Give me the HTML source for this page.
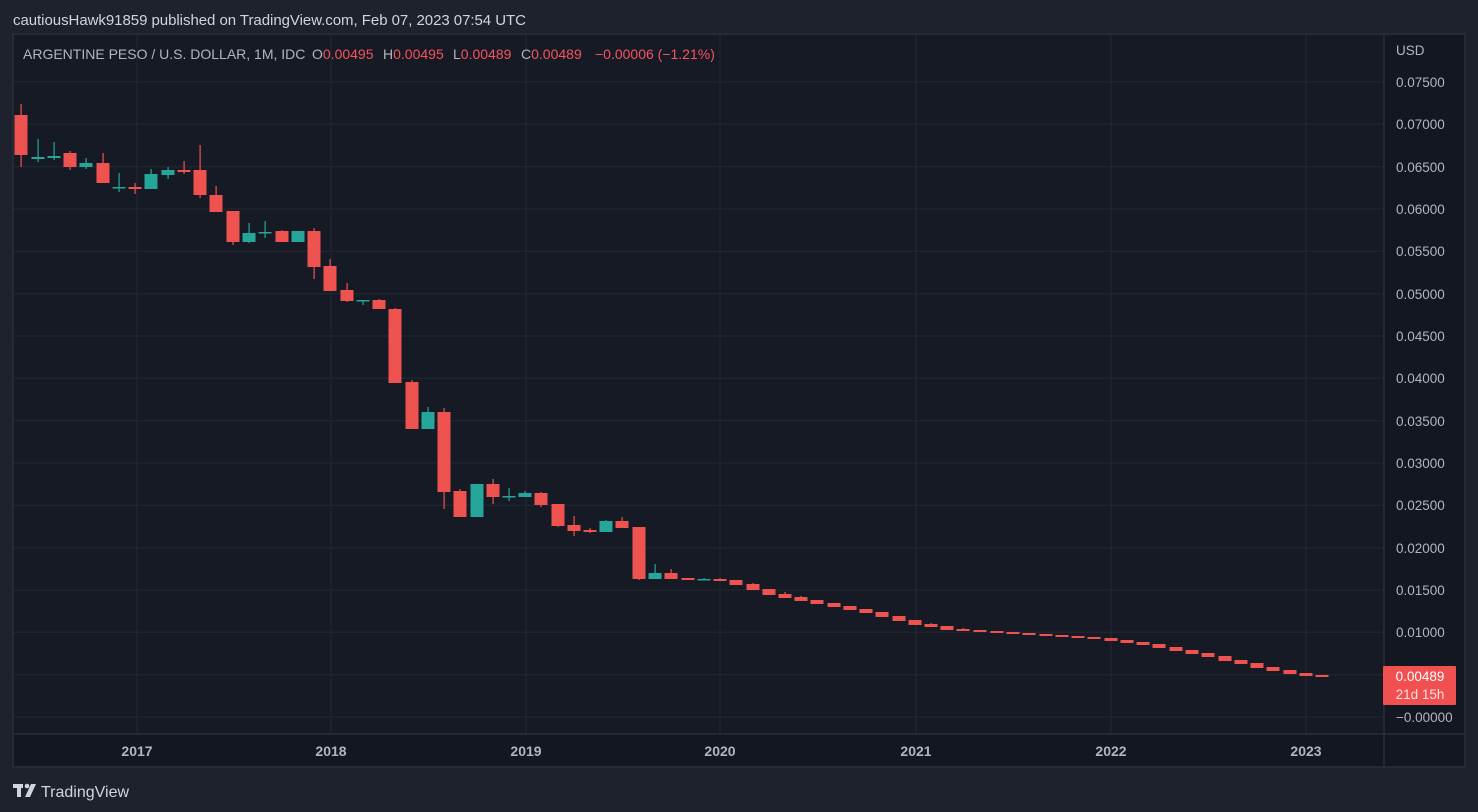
<!DOCTYPE html>
<html><head><meta charset="utf-8"><style>
html,body{margin:0;padding:0;background:#1e222d;width:1478px;height:812px;overflow:hidden;font-family:"Liberation Sans",sans-serif}
</style></head><body>
<svg width="1478" height="812" xmlns="http://www.w3.org/2000/svg" font-family="Liberation Sans, sans-serif">
<rect x="0" y="0" width="1478" height="812" fill="#1e222d"/>
<text x="13" y="25" fill="#d1d4dc" font-size="15" textLength="513">cautiousHawk91859 published on TradingView.com, Feb 07, 2023 07:54 UTC</text>
<rect x="13" y="34" width="1452" height="733" fill="#161a25" stroke="#2a2e39" stroke-width="1.5"/>
<rect x="14" y="734" width="1450" height="32" fill="#131722"/>
<rect x="1384" y="35" width="80" height="699" fill="#131722"/>
<g stroke="#242833" stroke-width="1">
<line x1="14" x2="1383" y1="82" y2="82"/><line x1="14" x2="1383" y1="124.3" y2="124.3"/><line x1="14" x2="1383" y1="166.7" y2="166.7"/><line x1="14" x2="1383" y1="209" y2="209"/><line x1="14" x2="1383" y1="251.3" y2="251.3"/><line x1="14" x2="1383" y1="293.7" y2="293.7"/><line x1="14" x2="1383" y1="336" y2="336"/><line x1="14" x2="1383" y1="378.3" y2="378.3"/><line x1="14" x2="1383" y1="420.7" y2="420.7"/><line x1="14" x2="1383" y1="463" y2="463"/><line x1="14" x2="1383" y1="505.3" y2="505.3"/><line x1="14" x2="1383" y1="547.7" y2="547.7"/><line x1="14" x2="1383" y1="590" y2="590"/><line x1="14" x2="1383" y1="632.3" y2="632.3"/><line x1="14" x2="1383" y1="674.7" y2="674.7"/><line x1="14" x2="1383" y1="717" y2="717"/>
<line x1="137" x2="137" y1="35" y2="733"/><line x1="331" x2="331" y1="35" y2="733"/><line x1="526" x2="526" y1="35" y2="733"/><line x1="720" x2="720" y1="35" y2="733"/><line x1="916" x2="916" y1="35" y2="733"/><line x1="1111" x2="1111" y1="35" y2="733"/><line x1="1306" x2="1306" y1="35" y2="733"/>
</g>
<line x1="1384" x2="1384" y1="35" y2="767" stroke="#2a2e39" stroke-width="1.5"/>
<line x1="14" x2="1464" y1="734" y2="734" stroke="#2a2e39" stroke-width="1.5"/>
<g font-size="14" fill="#b2b5be">
<text x="23" y="59">ARGENTINE PESO / U.S. DOLLAR, 1M, IDC</text>
<text x="312" y="59">O<tspan fill="#f7525f">0.00495</tspan></text>
<text x="383" y="59">H<tspan fill="#f7525f">0.00495</tspan></text>
<text x="453" y="59">L<tspan fill="#f7525f">0.00489</tspan></text>
<text x="521" y="59">C<tspan fill="#f7525f">0.00489</tspan></text>
<text x="595" y="59" fill="#f7525f">−0.00006 (−1.21%)</text>
</g>
<g fill="#b2b5be" font-size="13.5">
<text x="1396" y="55">USD</text>
<text x="1396" y="87">0.07500</text><text x="1396" y="129">0.07000</text><text x="1396" y="172">0.06500</text><text x="1396" y="214">0.06000</text><text x="1396" y="256">0.05500</text><text x="1396" y="299">0.05000</text><text x="1396" y="341">0.04500</text><text x="1396" y="383">0.04000</text><text x="1396" y="426">0.03500</text><text x="1396" y="468">0.03000</text><text x="1396" y="510">0.02500</text><text x="1396" y="553">0.02000</text><text x="1396" y="595">0.01500</text><text x="1396" y="637">0.01000</text><text x="1396" y="722">−0.00000</text>
</g>
<g fill="#b2b5be" font-size="14" font-weight="bold" text-anchor="middle">
<text x="137" y="756">2017</text><text x="331" y="756">2018</text><text x="526" y="756">2019</text><text x="720" y="756">2020</text><text x="916" y="756">2021</text><text x="1111" y="756">2022</text><text x="1306" y="756">2023</text>
</g>
<g id="c"></g>
<rect x="1383" y="666" width="73" height="39" fill="#f0504f" rx="1"/>
<text x="1420" y="681" fill="#fff" font-size="13.5" text-anchor="middle">0.00489</text>
<text x="1420" y="699" fill="#fde0e0" font-size="13.5" text-anchor="middle">21d 15h</text>
<g fill="#d1d4dc">
<rect x="13" y="784" width="10" height="4"/><rect x="17" y="784" width="4" height="13"/>
<circle cx="27" cy="786" r="2.3"/><polygon points="31,784 36,784 30,797 25,797"/>
</g>
<text x="41" y="797" fill="#d1d4dc" font-size="16">TradingView</text>
</svg>
<script>
var d=[[21,115,155,104,167,'r'],[38,157,159,139,162,'g'],[54,156,158,142,160,'g'],[70,153,167,151,170,'r'],[86,163,167,158,169,'g'],[103,163,183,153,183,'r'],[119,187,188,173,192,'g'],[135,187,189,183,194,'r'],[151,174,189,169,189,'g'],[168,170,175,167,179,'g'],[184,170,172,161,174,'r'],[200,170,195,145,198,'r'],[216,195,212,186,212,'r'],[233,211,242,211,245,'r'],[249,233,242,223,243,'g'],[265,232,233,221,238,'g'],[282,231,242,230,242,'r'],[298,231,242,231,242,'g'],[314,231,267,228,279,'r'],[330,266,291,259,291,'r'],[347,290,301,283,302,'r'],[363,300,301,300,305,'g'],[379,300,309,299,309,'r'],[395,309,383,308,383,'r'],[412,382,429,380,429,'r'],[428,412,429,407,429,'g'],[444,412,492,408,509,'r'],[460,491,517,489,517,'r'],[477,484,517,484,517,'g'],[493,484,497,479,504,'r'],[509,496,497,488,501,'g'],[525,493,497,491,497,'g'],[541,493,505,492,507,'r'],[558,504,526,504,527,'r'],[574,525,531,516,536,'r'],[590,530,532,528,533,'r'],[606,521,532,520,532,'g'],[622,521,528,517,528,'r'],[639,527,579,527,580,'r'],[655,573,579,564,579,'g'],[671,573,579,569,579,'r'],[688,578,580,578,580,'r'],[704,579,580,578,580,'g'],[720,579,581,578,581,'r'],[736,580,585,580,585,'r'],[753,584,590,583,590,'r'],[769,589,595,589,595,'r'],[785,594,598,592,598,'r'],[801,597,601,596,601,'r'],[817,600,604,600,604,'r'],[834,603,607,603,607,'r'],[850,606,610,606,610,'r'],[866,609,613,609,613,'r'],[882,612,617,612,617,'r'],[899,616,621,616,621,'r'],[915,620,625,620,625,'r'],[931,624,627,623,627,'r'],[947,626,630,626,630,'r'],[963,629,631,628,631,'r'],[980,630,632,630,632,'r'],[997,631,633,631,633,'r'],[1013,632,634,632,634,'r'],[1029,633,635,633,635,'r'],[1046,634,636,634,636,'r'],[1062,635,637,635,637,'r'],[1078,636,638,636,638,'r'],[1094,637,639,637,639,'r'],[1111,638,641,638,641,'r'],[1127,640,643,640,643,'r'],[1143,642,645,642,645,'r'],[1159,644,648,644,648,'r'],[1176,647,651,647,651,'r'],[1192,650,654,650,654,'r'],[1208,653,657,653,657,'r'],[1225,656,661,656,661,'r'],[1241,660,664,660,664,'r'],[1257,663,668,663,668,'r'],[1273,667,671,667,671,'r'],[1290,670,674,670,674,'r'],[1306,673,676,673,676,'r'],[1322,675,677,675,677,'r']];
var s='';d.forEach(function(c){var col=c[5]=='r'?'#ef5350':'#26a69a';var h=Math.max(c[2]-c[1],1.5);
s+='<rect x="'+(c[0]-0.5)+'" y="'+c[3]+'" width="1.2" height="'+(c[4]-c[3])+'" fill="'+col+'"/>';
s+='<rect x="'+(c[0]-6.5)+'" y="'+c[1]+'" width="13" height="'+h+'" fill="'+col+'"/>';});
document.getElementById('c').innerHTML=s;
</script>
</body></html>
